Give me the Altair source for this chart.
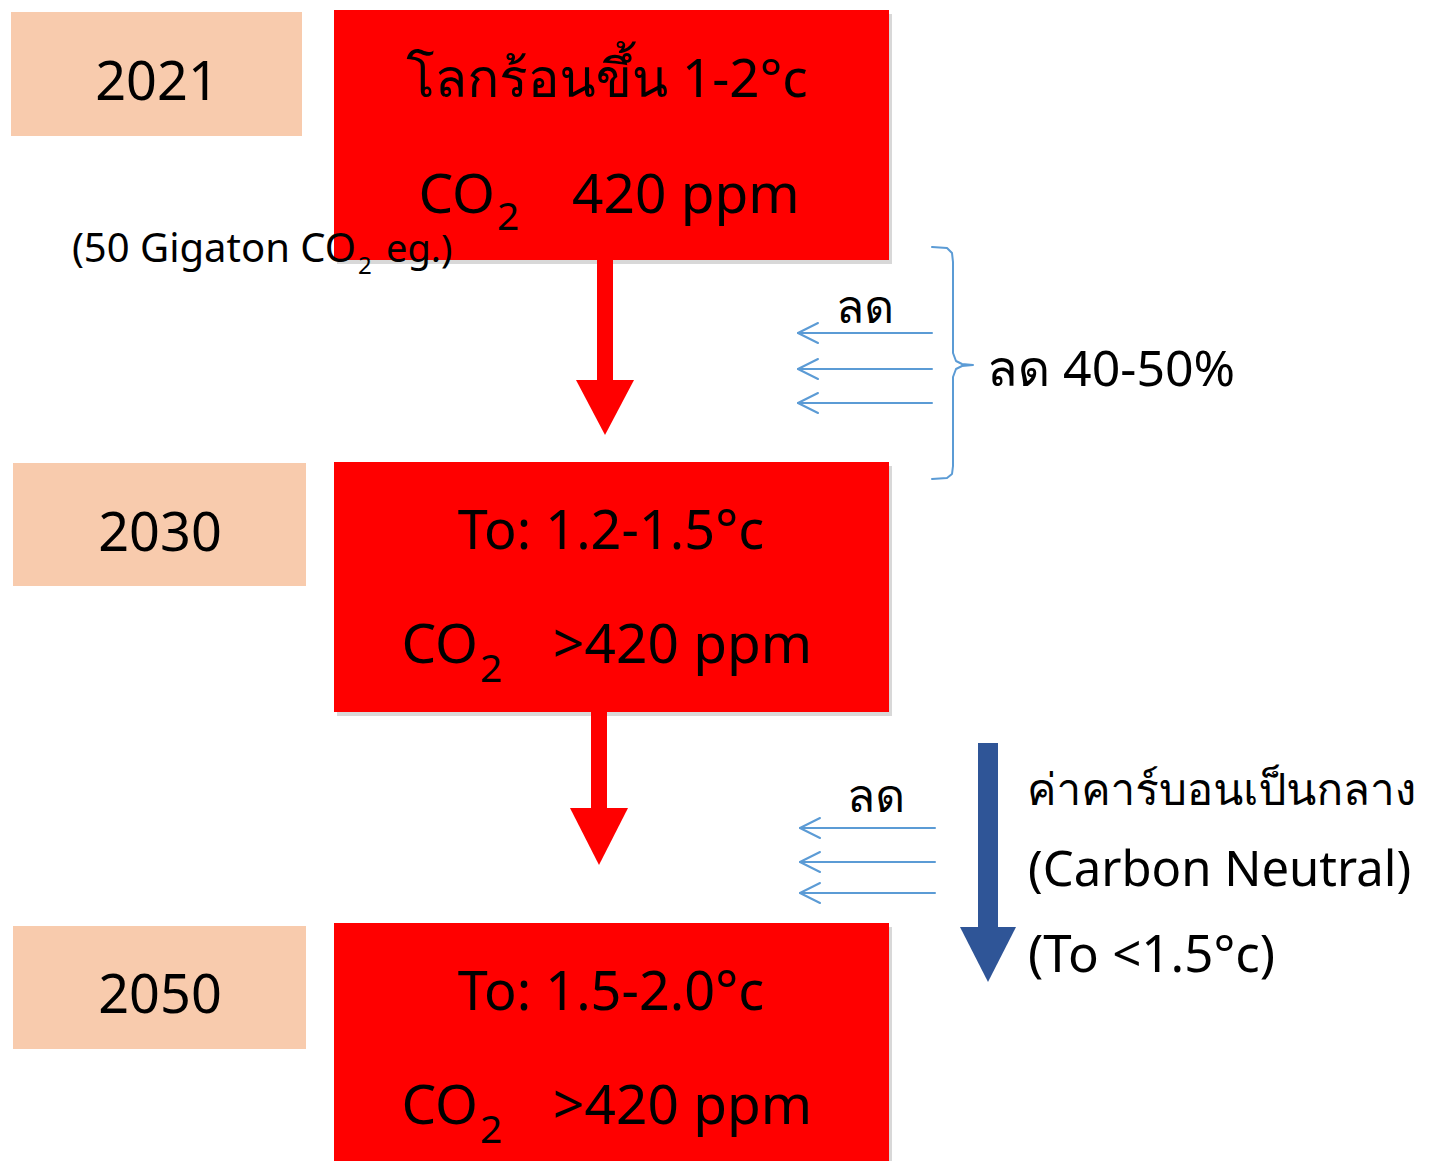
import altair as alt
import pandas as pd

# ---------------- data ----------------
years = ["2021", "2030", "2050"]
year_x0 = [11, 13, 13]
year_x1 = [302, 306, 306]
year_y0 = [12, 463, 926]
year_y1 = [136, 586, 1049]

red_x0 = [334, 334, 334]
red_x1 = [889, 889, 889]
red_y0 = [10, 462, 923]
red_y1 = [260, 712, 1175]

# red down arrows (shaft + head)
arrow_cx = [605, 599]
arrow_top = [260, 712]
arrow_head = [380, 808]
arrow_tip = [435, 865]

# thin blue arrows (y levels) for two groups
thin_y = [333, 369, 403, 828, 862, 893]
thin_x_start = [932, 932, 932, 935, 935, 935]
thin_x_end = [798, 798, 798, 800, 800, 800]

# dark blue arrow
dark_cx = 988
dark_top = 743
dark_head = 927
dark_tip = 982

# text labels
center_texts = ["2021", "2030", "2050", "โลกร้อนขึ้น 1-2°c", "To: 1.2-1.5°c", "To: 1.5-2.0°c", "ลด", "ลด"]
center_x = [157, 160, 160, 607, 611, 611, 865, 876]
center_y = [100, 551, 1013, 97, 549, 1010, 323, 812]
center_s = [54, 54, 54, 53, 54, 54, 46, 46]

right_texts = ["CO", "CO", "CO", "(50 Gigaton CO"]
right_x = [495, 478, 478, 356]
right_y = [213, 663, 1124, 262]
right_s = [55, 55, 55, 40]

left_texts = ["2", "2", "2", "420 ppm", ">420 ppm", ">420 ppm", "2", "eg.)",
              "ลด 40-50%", "ค่าคาร์บอนเป็นกลาง", "(Carbon Neutral)", "(To <1.5°c)"]
left_x = [497, 480, 480, 572, 553, 553, 358, 386, 987, 1027, 1028, 1028]
left_y = [230, 682, 1143, 213, 663, 1124, 274, 262, 386, 805, 886, 972]
left_s = [39, 39, 39, 55, 55, 55, 24, 38, 50, 44, 49, 51]

# ---------------- helpers ----------------
XS = alt.Scale(domain=[8, 1426], nice=False, zero=False)
YS = alt.Scale(domain=[8, 1161], nice=False, zero=False, reverse=True)
FONT = ("Noto Sans, Loma, Waree, Garuda, Tlwg Typo, Noto Sans Thai Looped, "
        "Noto Sans Thai, Tahoma, DejaVu Sans, sans-serif")


def X(f="x"):
    return alt.X(f"{f}:Q", scale=XS, axis=None)


def Y(f="y"):
    return alt.Y(f"{f}:Q", scale=YS, axis=None)


def rects(x0, x1, y0, y1, color, opacity=1.0, dx=0, dy=0):
    df = pd.DataFrame({"x": [a + dx for a in x0], "x2": [a + dx for a in x1],
                       "y": [a + dy for a in y0], "y2": [a + dy for a in y1]})
    return alt.Chart(df).mark_rect(color=color, opacity=opacity).encode(
        x=X(), x2="x2:Q", y=Y(), y2="y2:Q")


# boxes
shadow = rects(red_x0, red_x1, red_y0, red_y1, "#7f7f7f", 0.3, 3, 4)
peach = rects(year_x0, year_x1, year_y0, year_y1, "#F8CBAD")
red = rects(red_x0, red_x1, red_y0, red_y1, "#FF0000")

# red arrows
shaft = rects([c - 8 for c in arrow_cx], [c + 8 for c in arrow_cx],
              arrow_top, arrow_head, "#FF0000")
head_rows = []
for i, c in enumerate(arrow_cx):
    for xx, yb in [(c - 29, arrow_head[i]), (c, arrow_tip[i]), (c + 29, arrow_head[i])]:
        head_rows.append({"g": i, "x": xx, "y": arrow_head[i], "y2": yb})
heads = alt.Chart(pd.DataFrame(head_rows)).mark_area(color="#FF0000").encode(
    x=X(), y=Y(), y2="y2:Q", detail="g:N")

# dark blue arrow
dshaft = rects([dark_cx - 10], [dark_cx + 10], [dark_top], [dark_head], "#2F5597")
dhead = alt.Chart(pd.DataFrame([
    {"x": dark_cx - 28, "y": dark_head, "y2": dark_head},
    {"x": dark_cx, "y": dark_head, "y2": dark_tip},
    {"x": dark_cx + 28, "y": dark_head, "y2": dark_head},
])).mark_area(color="#2F5597").encode(x=X(), y=Y(), y2="y2:Q")

# thin blue arrows and brace
line_rows = []
sid = 0
for ys, xs, xe in zip(thin_y, thin_x_start, thin_x_end):
    for o, (px, py) in enumerate([(xs, ys), (xe, ys)]):
        line_rows.append({"id": sid, "o": o, "x": px, "y": py})
    sid += 1
    for o, (px, py) in enumerate([(xe + 20, ys - 10), (xe, ys), (xe + 20, ys + 10)]):
        line_rows.append({"id": sid, "o": o, "x": px, "y": py})
    sid += 1
brace = [(932, 247), (947, 248), (952, 253), (953, 262), (953, 353), (956, 361),
         (962, 364), (973, 365), (962, 366), (956, 369), (953, 377), (953, 466),
         (952, 474), (947, 478), (932, 479)]
for o, (px, py) in enumerate(brace):
    line_rows.append({"id": sid, "o": o, "x": px, "y": py})
lines = alt.Chart(pd.DataFrame(line_rows)).mark_line(
    color="#5B9BD5", strokeWidth=2, strokeCap="round", strokeJoin="round").encode(
    x=X(), y=Y(), detail="id:N", order="o:Q")


def texts(t, xs, ys, ss, align):
    df = pd.DataFrame({"t": t, "x": xs, "y": ys, "s": ss})
    return alt.Chart(df).mark_text(align=align, baseline="alphabetic", font=FONT,
                                   color="#000000").encode(
        x=X(), y=Y(), text="t:N", size=alt.Size("s:Q", scale=None))


tc = texts(center_texts, center_x, center_y, center_s, "center")
tr = texts(right_texts, right_x, right_y, right_s, "right")
tl = texts(left_texts, left_x, left_y, left_s, "left")

chart = alt.layer(shadow, peach, red, shaft, heads, dshaft, dhead, lines, tc, tr, tl).properties(
    width=1418, height=1153, autosize=alt.AutoSizeParams(type="none"), padding=0,
    background="white"
).configure_view(stroke=None, strokeWidth=0)

chart.save("out.html", embed_options={"renderer": "svg", "actions": False})
